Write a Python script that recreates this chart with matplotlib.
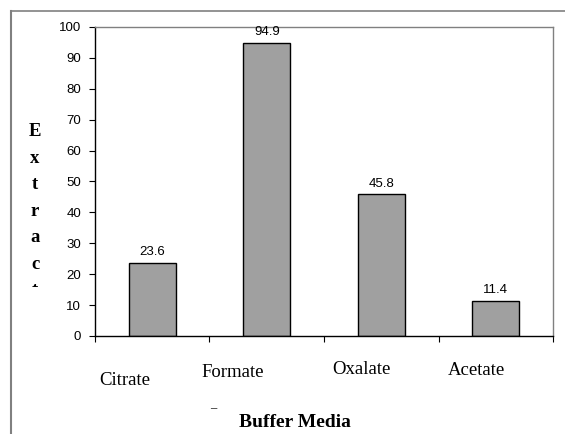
import matplotlib.pyplot as plt
from matplotlib.lines import Line2D
from matplotlib.patches import Rectangle
import numpy as np

categories = ['Citrate', 'Formate', 'Oxalate', 'Acetate']
values = [23.6, 94.9, 45.8, 11.4]
yticks = list(range(0, 101, 10))

# label positions (figure fraction) - the original labels are not aligned
label_x = [0.220, 0.411, 0.639, 0.843]
label_y = [0.124, 0.141, 0.148, 0.147]

fig = plt.figure(figsize=(5.65, 4.34), dpi=100)
ax = fig.add_axes([0.168, 0.226, 0.811, 0.712])

x = np.arange(len(categories))
ax.bar(x, values, width=0.41, color='#a0a0a0', edgecolor='black', linewidth=1.0, zorder=2)
for xi, v in zip(x, values):
    ax.text(xi, v + 1.5, f'{v}', ha='center', va='bottom',
            fontsize=9.5, family='Liberation Sans')

ax.set_xlim(-0.5, len(categories) - 0.5)
ax.set_ylim(0, 100)
ax.set_yticks(yticks)
ax.set_yticklabels([str(t) for t in yticks], fontsize=9.5, family='Liberation Sans')
ax.set_xticks(np.arange(-0.5, len(categories), 1.0))
ax.set_xticklabels([])
ax.tick_params(axis='both', direction='out', length=4, width=0.8, pad=6)

ax.spines['left'].set_color('black')
ax.spines['bottom'].set_color('black')
ax.spines['top'].set_color('#808080')
ax.spines['right'].set_color('#808080')
for s in ax.spines.values():
    s.set_linewidth(1.0)

# category labels in serif, placed as in the original
for name, lx, ly in zip(categories, label_x, label_y):
    fig.text(lx, ly, name, ha='center', va='center', fontsize=13.5,
             family='Liberation Serif')

fig.text(0.522, 0.027, 'Buffer Media', ha='center', va='center', fontsize=14,
         family='Liberation Serif', weight='bold')
fig.text(0.377, 0.068, '_', ha='center', va='center', fontsize=9,
         family='Liberation Serif')

# stacked y label, cut off like the original
for i, ch in enumerate('Extract'):
    fig.text(0.062, 0.696 - i * 0.061, ch, ha='center', va='center', fontsize=13.5,
             family='Liberation Serif', weight='bold')
fig.add_artist(Rectangle((0.03, 0.28), 0.07, 0.059, facecolor='white',
                         edgecolor='none', transform=fig.transFigure, zorder=10))

# outer frame
fig.add_artist(Line2D([0.019, 0.019], [0.0, 0.975], color='#808080', lw=1.5,
                      transform=fig.transFigure))
fig.add_artist(Line2D([0.019, 1.0], [0.975, 0.975], color='#808080', lw=1.2,
                      transform=fig.transFigure))

fig.savefig('out.png', dpi=100)
